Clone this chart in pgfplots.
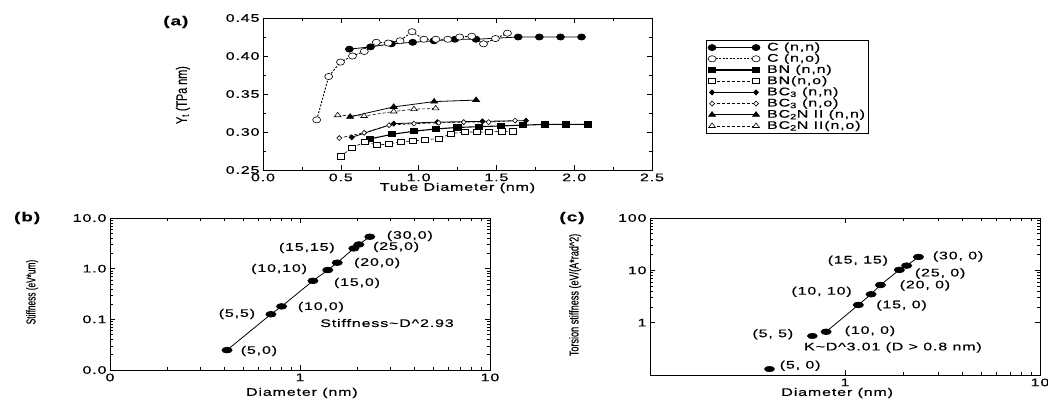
\documentclass[border=0pt]{standalone}
\usepackage{pgfplots}
\pgfplotsset{compat=1.18}
\usepackage{fontspec}
\setmainfont[FakeStretch=1.45,LetterSpace=8,FakeBold=0.5]{Liberation Sans}
\newfontfamily\ylabfont[FakeStretch=0.72,FakeBold=0.3]{Liberation Sans}
\newfontfamily\ylabfontb[FakeStretch=0.64,FakeBold=0.3]{Liberation Sans}
\newfontfamily\ylabfontc[FakeStretch=0.70,FakeBold=0.3]{Liberation Sans}
\newcommand\tfont{\fontsize{11}{12}\selectfont}
\newcommand\yfont{\ylabfont\fontsize{15}{15}\selectfont}
\newcommand\yfontb{\ylabfontb\fontsize{13}{13}\selectfont}
\newcommand\yfontc{\ylabfontc\fontsize{13}{13}\selectfont}
\begin{document}
\begin{tikzpicture}
\useasboundingbox (0pt,0pt) rectangle (1048pt,401pt);
\pgfplotsset{
  every axis/.append style={
    scale only axis, anchor=south west, clip mode=individual,
    tick label style={font=\tfont, black},
    label style={font=\tfont},
    axis line style={line width=0.9pt},
    tick style={line width=0.6pt, black},
    major tick length=5pt, minor tick length=3pt,
  },
}
% ---------------- (a)
\begin{axis}[at={(263pt,231pt)}, width=389pt, height=152pt,
  xmin=0, xmax=2.5, ymin=0.25, ymax=0.45,
  xtick={0,0.5,1,1.5,2,2.5}, xticklabels={0.0,0.5,1.0,1.5,2.0,2.5},
  ytick={0.25,0.3,0.35,0.4,0.45}, yticklabels={0.25,0.30,0.35,0.40,0.45},
  minor x tick num=1, minor y tick num=1,
  xlabel={Tube Diameter (nm)},
  xlabel style={at={(axis description cs:0.5,-0.118)}, anchor=center},
  ylabel={Y\textsubscript{t} (TPa nm)},
  ylabel style={font=\yfont, at={(axis description cs:-0.206,0.493)}, anchor=center},
  legend style={at={(1.139,0.855)}, anchor=north west, font=\tfont, draw=black, line width=0.9pt,
    inner sep=1.5pt, row sep=0pt, column sep=5pt, cells={anchor=west},
    nodes={inner ysep=0.5pt, inner xsep=2pt, text height=8pt, text depth=2.2pt}},
  legend image code/.code={\draw[mark repeat=2,mark phase=1,#1] plot coordinates {(3pt,0pt) (25pt,0pt) (47pt,0pt)};},
]
\addplot[black, line width=0.8pt, mark=*, mark size=3pt, mark options={xscale=1.3, solid}] coordinates {
(0.555,0.409) (0.691,0.412) (0.826,0.416) (0.962,0.418) (1.098,0.420) (1.233,0.422) (1.369,0.422)
(1.640,0.425) (1.776,0.425) (1.912,0.425) (2.047,0.425)};
\addlegendentry{C (n,n)}
\addplot[black, line width=0.9pt, dash pattern=on 2pt off 1.5pt, mark=*, mark size=3.1pt, mark options={xscale=1.3, solid, fill=white, line width=0.6pt}] coordinates {
(0.345,0.316) (0.422,0.373) (0.498,0.392) (0.575,0.400) (0.651,0.406) (0.728,0.418) (0.805,0.417)
(0.881,0.420) (0.958,0.432) (1.034,0.422) (1.111,0.422) (1.188,0.422) (1.264,0.425) (1.341,0.426)
(1.417,0.416) (1.494,0.423) (1.571,0.430)};
\addlegendentry{C (n,o)}
\addplot[black, line width=1.1pt, mark=square*, mark size=2.6pt, mark options={xscale=1.35, solid}] coordinates {
(0.69,0.291) (0.83,0.297) (0.97,0.301) (1.11,0.304) (1.25,0.306) (1.39,0.307) (1.53,0.308)
(1.67,0.309) (1.81,0.310) (1.95,0.310) (2.09,0.310)};
\addlegendentry{BN (n,n)}
\addplot[black, line width=0.6pt, dash pattern=on 3pt off 2pt, mark=square*, mark size=2.6pt, mark options={xscale=1.35, solid, fill=white}] coordinates {
(0.50,0.268) (0.57,0.279) (0.655,0.287) (0.73,0.283) (0.81,0.284) (0.884,0.2875) (0.962,0.288)
(1.04,0.290) (1.127,0.291) (1.21,0.298) (1.296,0.300) (1.374,0.300) (1.45,0.300) (1.535,0.301) (1.607,0.301)};
\addlegendentry{BN(n,o)}
\addplot[black, line width=0.8pt, mark=diamond*, mark size=2.5pt, mark options={xscale=1.3, solid}] coordinates {
(0.57,0.293) (0.84,0.311) (1.12,0.313) (1.41,0.314) (1.69,0.315)};
\addlegendentry{BC\textsubscript{3} (n,n)}
\addplot[black, line width=0.6pt, dash pattern=on 3pt off 2pt, mark=diamond*, mark size=2.5pt, mark options={xscale=1.3, solid, fill=white}] coordinates {
(0.49,0.292) (0.65,0.299) (0.81,0.309) (0.97,0.311) (1.13,0.312) (1.29,0.313) (1.45,0.313) (1.62,0.315)};
\addlegendentry{BC\textsubscript{3} (n,o)}
\addplot[black, line width=0.8pt, mark=triangle*, mark size=3pt, mark options={xscale=1.3, solid}] coordinates {
(0.56,0.320) (0.84,0.333) (1.10,0.340) (1.37,0.342)};
\addlegendentry{BC\textsubscript{2}N II (n,n)}
\addplot[black, line width=0.6pt, dash pattern=on 3pt off 2pt, mark=triangle*, mark size=3pt, mark options={xscale=1.3, solid, fill=white}] coordinates {
(0.48,0.322) (0.65,0.321) (0.84,0.327) (0.97,0.330) (1.11,0.331)};
\addlegendentry{BC\textsubscript{2}N II(n,o)}
\node[font=\bfseries\fontsize{13}{13}\selectfont] at (axis description cs:-0.224,0.974) {(a)};
\end{axis}
% ---------------- (b)
\begin{axis}[at={(110pt,31pt)}, width=380pt, height=152pt,
  xmode=log, ymode=log, xmin=0.1, xmax=10, ymin=0.01, ymax=10,
  xtick={0.1,1,10}, xticklabels={0,1,10},
  ytick={0.01,0.1,1,10}, yticklabels={0.0,0.1,1.0,10.0},
  xlabel={Diameter (nm)},
  xlabel style={at={(axis description cs:0.505,-0.151)}, anchor=center},
  ylabel={Stiffness (eV*um)},
  ylabel style={font=\yfontb, at={(axis description cs:-0.205,0.513)}, anchor=center},
]
\addplot[black, line width=0.8pt, mark=*, mark size=2.8pt, mark options={xscale=1.8}] coordinates {
(0.413,0.0247) (0.703,0.126) (0.80,0.18) (1.17,0.575) (1.40,0.94) (1.57,1.31) (1.92,2.51) (2.04,3.0) (2.33,4.26)};
\node[font=\tfont] at (axis description cs:0.392,0.125) {(5,0)};
\node[font=\tfont] at (axis description cs:0.334,0.368) {(5,5)};
\node[font=\tfont] at (axis description cs:0.555,0.414) {(10,0)};
\node[font=\tfont] at (axis description cs:0.650,0.572) {(15,0)};
\node[font=\tfont] at (axis description cs:0.445,0.664) {(10,10)};
\node[font=\tfont] at (axis description cs:0.703,0.704) {(20,0)};
\node[font=\tfont] at (axis description cs:0.518,0.803) {(15,15)};
\node[font=\tfont] at (axis description cs:0.753,0.809) {(25,0)};
\node[font=\tfont] at (axis description cs:0.789,0.882) {(30,0)};
\node[font=\tfont] at (axis description cs:0.729,0.309) {Stiffness\textasciitilde D\textasciicircum 2.93};
\node[font=\bfseries\fontsize{13}{13}\selectfont] at (axis description cs:-0.218,1.0) {(b)};
\end{axis}
% ---------------- (c)
\begin{axis}[at={(650pt,26pt)}, width=390pt, height=157pt,
  xmode=log, ymode=log, xmin=0.1, xmax=10, ymin=0.1, ymax=100,
  xtick={1,10}, xticklabels={1,10},
  ytick={1,10,100}, yticklabels={1,10,100},
  xlabel={Diameter (nm)},
  xlabel style={at={(axis description cs:0.48,-0.115)}, anchor=center},
  ylabel={Torsion stiffness (eV/(A*rad\textasciicircum 2)},
  ylabel style={font=\yfontc, at={(axis description cs:-0.192,0.51)}, anchor=center},
]
\addplot[black, line width=0.8pt, mark=*, mark size=2.8pt, mark options={xscale=1.8}] coordinates {
(0.80,0.67) (1.17,2.18) (1.36,3.49) (1.52,5.25) (1.90,10.2) (2.07,12.3) (2.38,18.0)};
\addplot[only marks, black, mark=*, mark size=2.8pt, mark options={xscale=1.8}] coordinates {
(0.41,0.13) (0.68,0.557)};
\node[font=\tfont] at (axis description cs:0.790,0.755) {(30, 0)};
\node[font=\tfont] at (axis description cs:0.533,0.728) {(15, 15)};
\node[font=\tfont] at (axis description cs:0.744,0.646) {(25, 0)};
\node[font=\tfont] at (axis description cs:0.705,0.570) {(20, 0)};
\node[font=\tfont] at (axis description cs:0.440,0.530) {(10, 10)};
\node[font=\tfont] at (axis description cs:0.645,0.443) {(15, 0)};
\node[font=\tfont] at (axis description cs:0.315,0.259) {(5, 5)};
\node[font=\tfont] at (axis description cs:0.564,0.280) {(10, 0)};
\node[font=\tfont] at (axis description cs:0.623,0.175) {K\textasciitilde D\textasciicircum 3.01 (D > 0.8 nm)};
\node[font=\tfont] at (axis description cs:0.385,0.059) {(5, 0)};
\node[font=\bfseries\fontsize{13}{13}\selectfont] at (axis description cs:-0.2,1.0) {(c)};
\end{axis}
\end{tikzpicture}
\end{document}
